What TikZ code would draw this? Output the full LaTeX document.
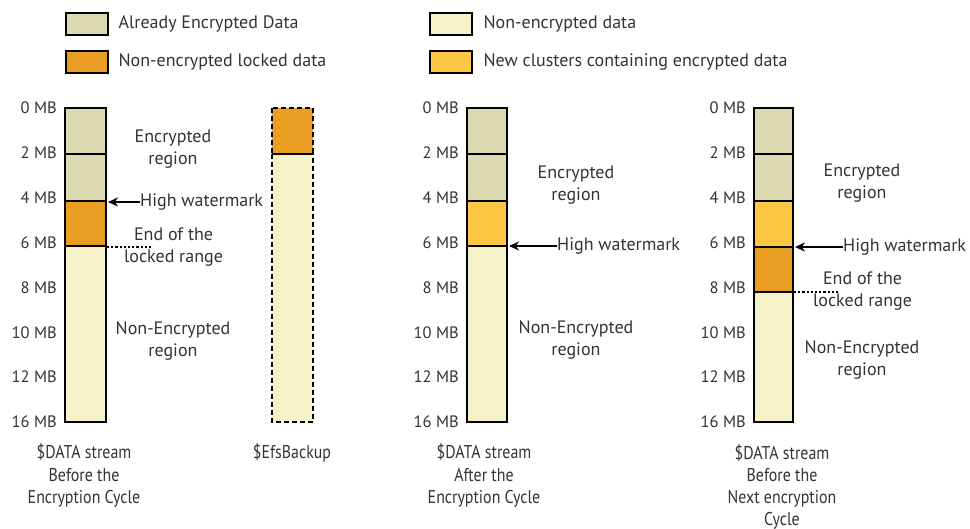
\documentclass[tikz,border=0pt]{standalone}
\usepackage{fontspec}
\setmainfont{PT Sans}
\newfontfamily\narrowfont[FakeStretch=0.86]{PT Sans}
\usetikzlibrary{positioning,arrows.meta}
\definecolor{encdata}{HTML}{DCDAB0}
\definecolor{plaindata}{HTML}{F5F3C7}
\definecolor{lockdata}{HTML}{EA9D23}
\definecolor{newdata}{HTML}{FCC843}
\definecolor{inkgray}{HTML}{333333}
\tikzset{
	seg/.style={draw=black, line width=2.8pt},
	backupseg/.style={draw=black, line width=2.6pt, dash pattern=on 5pt off 3pt},
	legbox/.style={draw=black, line width=2.8pt, minimum width=42pt, minimum height=22pt, inner sep=0pt},
	lbl/.style={text=inkgray, font=\fontsize{18}{22}\selectfont, inner sep=0pt, align=center},
	mb/.style={lbl, font=\fontsize{16.5}{20}\selectfont, anchor=east},
	wmarrow/.style={line width=2pt, -{Stealth[length=10pt,width=9pt]}},
	lockline/.style={line width=2.2pt, dash pattern=on 2.2pt off 2pt},
	caption/.style={text=inkgray, font=\narrowfont\fontsize{18.5}{22}\selectfont, align=center, anchor=north, inner sep=0pt}
}
\begin{document}
\begin{tikzpicture}[x=1pt, y=-1pt]
	\useasboundingbox (0,0) rectangle (970,529);

	% legend
	\node[legbox, fill=encdata] (legenc) at (87,24) {};
	\node[lbl, right=9pt of legenc] (legenctxt) {Already Encrypted Data};
	\node[legbox, fill=lockdata] (leglock) at (87,62) {};
	\node[lbl, right=9pt of leglock] (leglocktxt) {Non-encrypted locked data};
	\node[legbox, fill=plaindata] (legplain) at (451,24) {};
	\node[lbl, right=10pt of legplain] (legplaintxt) {Non-encrypted data};
	\node[legbox, fill=newdata] (legnew) at (451,62) {};
	\node[lbl, right=10pt of legnew] (legnewtxt) {New clusters containing encrypted data};

	% size scales
	\foreach \x in {57, 459, 746}
		\foreach \t [count=\k from 0] in {0, 2, 4, 6, 8, 10, 12, 16}
			\node[mb] at (\x, 108+44.86*\k) {\t~MB};

	% $DATA stream before the cycle
	\draw[seg, fill=plaindata] (65,246) rectangle (106,422);
	\draw[seg, fill=lockdata] (65,201) rectangle (106,246);
	\draw[seg, fill=encdata] (65,154) rectangle (106,201);
	\draw[seg, fill=encdata] (65,108) rectangle (106,154);
	\node[lbl] (enc1) at (173,149) {Encrypted\\region};
	\node[lbl, anchor=west] (hw1) at (140,202) {High watermark};
	\coordinate (hw1tip) at (108,202);
	\draw[wmarrow] (hw1.west) -- (hw1tip);
	\node[lbl, anchor=west] (lock1) at (124,247) {End of the\\locked range};
	\coordinate (lock1a) at (107,247);
	\coordinate (lock1b) at (152,247);
	\draw[lockline] (lock1a) -- (lock1b);
	\node[lbl] (plain1) at (173,341) {Non-Encrypted\\region};

	% $EfsBackup
	\draw[backupseg, fill=plaindata] (272,154) rectangle (313,422);
	\draw[backupseg, fill=lockdata] (272,108) rectangle (313,154);
	\draw[line width=2.6pt] (272,154) -- (313,154);

	% $DATA stream after the cycle
	\draw[seg, fill=plaindata] (467,246) rectangle (507,422);
	\draw[seg, fill=newdata] (467,201) rectangle (507,246);
	\draw[seg, fill=encdata] (467,154) rectangle (507,201);
	\draw[seg, fill=encdata] (467,108) rectangle (507,154);
	\node[lbl] (enc3) at (576,185) {Encrypted\\region};
	\node[lbl, anchor=west] (hw3) at (557,246) {High watermark};
	\coordinate (hw3tip) at (509,246);
	\draw[wmarrow] (hw3.west) -- (hw3tip);
	\node[lbl] (plain3) at (576,340) {Non-Encrypted\\region};

	% $DATA stream before the next cycle
	\draw[seg, fill=plaindata] (754,292) rectangle (793,422);
	\draw[seg, fill=lockdata] (754,247) rectangle (793,292);
	\draw[seg, fill=newdata] (754,201) rectangle (793,247);
	\draw[seg, fill=encdata] (754,154) rectangle (793,201);
	\draw[seg, fill=encdata] (754,108) rectangle (793,154);
	\node[lbl] (enc4) at (862,183) {Encrypted\\region};
	\node[lbl, anchor=west] (hw4) at (843,247) {High watermark};
	\coordinate (hw4tip) at (795,247);
	\draw[wmarrow] (hw4.west) -- (hw4tip);
	\node[lbl, anchor=west] (lock4) at (813,291) {End of the\\locked range};
	\coordinate (lock4a) at (794,292);
	\coordinate (lock4b) at (840,292);
	\draw[lockline] (lock4a) -- (lock4b);
	\node[lbl] (plain4) at (862,360) {Non-Encrypted\\region};

	% captions
	\node[caption] (cap1) at (84,444) {\$DATA stream\\Before the\\Encryption Cycle};
	\node[caption] (cap2) at (292,444) {\$EfsBackup};
	\node[caption] (cap3) at (484,444) {\$DATA stream\\After the\\Encryption Cycle};
	\node[caption] (cap4) at (782,444) {\$DATA stream\\Before the\\Next encryption\\Cycle};
\end{tikzpicture}
\end{document}
